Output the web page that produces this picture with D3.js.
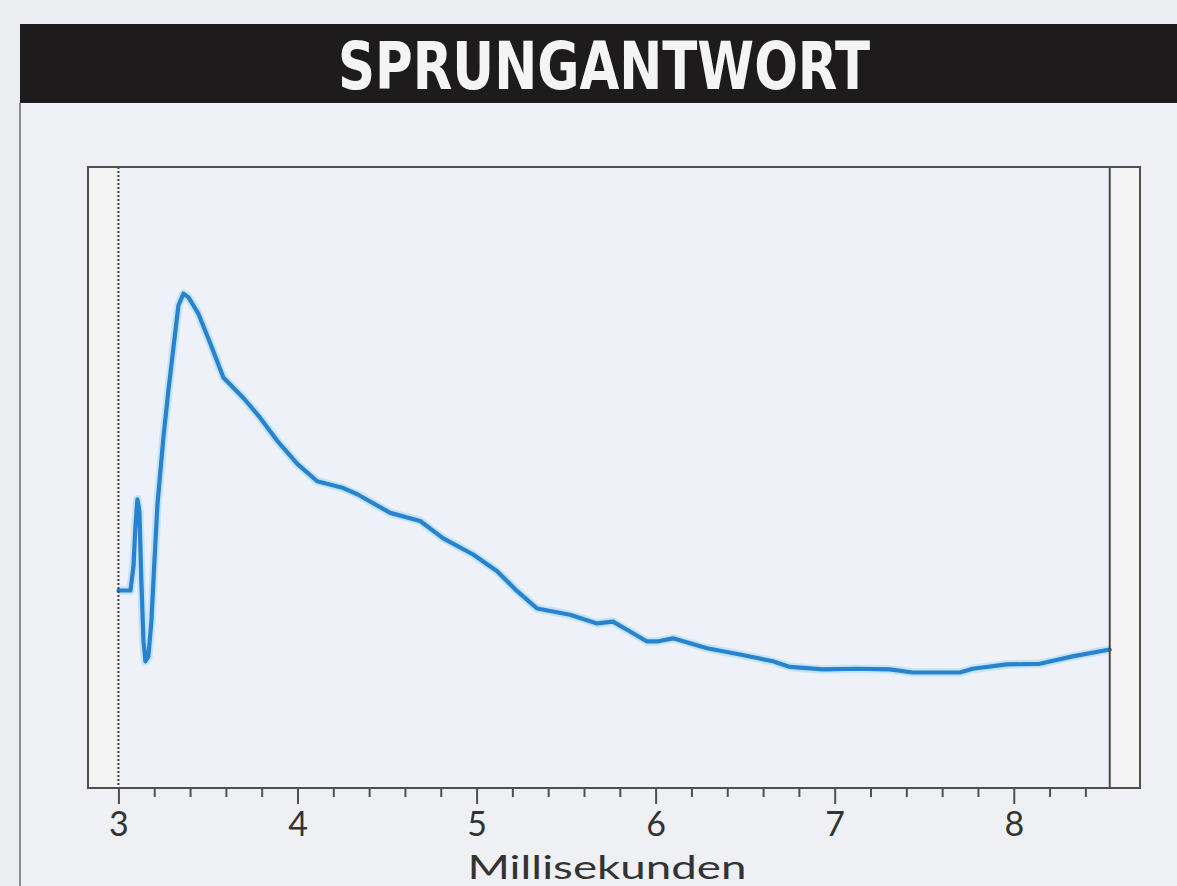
<!DOCTYPE html>
<html>
<head>
<meta charset="utf-8">
<script src="https://cdn.jsdelivr.net/npm/d3@7"></script>
<style>
  body { margin: 0; background: #eceef1; }
  svg { display: block; }
</style>
</head>
<body>
<svg id="chart" width="1177" height="886"></svg>
<script>
// Sprungantwort - Daten
const timeMs = [3.000, 3.067, 3.084, 3.095, 3.106, 3.117, 3.128, 3.140, 3.151, 3.167,
  3.184, 3.201, 3.218, 3.251, 3.279, 3.307, 3.335, 3.363, 3.391, 3.419,
  3.446, 3.513, 3.586, 3.698, 3.792, 3.887, 3.999, 4.110, 4.256, 4.334,
  4.518, 4.685, 4.814, 4.981, 5.115, 5.227, 5.338, 5.522, 5.673, 5.762,
  5.857, 5.952, 6.008, 6.097, 6.287, 6.471, 6.655, 6.750, 6.934, 7.124,
  7.308, 7.436, 7.699, 7.771, 7.961, 8.145, 8.329, 8.536];
const response = [31.8, 31.8, 35.7, 42.2, 46.5, 44.6, 33.3, 23.6, 20.4, 21.2,
  26.8, 36.5, 45.7, 56.4, 64.0, 70.9, 77.7, 79.6, 79.0, 77.7,
  76.4, 71.6, 66.1, 62.8, 59.6, 55.9, 52.2, 49.4, 48.3, 47.3,
  44.3, 43.0, 40.2, 37.6, 34.9, 31.7, 28.9, 27.9, 26.5, 26.8,
  25.2, 23.6, 23.6, 24.1, 22.5, 21.5, 20.4, 19.5, 19.1, 19.2,
  19.1, 18.6, 18.6, 19.2, 19.9, 20.0, 21.2, 22.3];

const majorTicks = [3, 4, 5, 6, 7, 8];
const minorTicks = [3.2, 3.4, 3.6, 3.8, 4.2, 4.4, 4.6, 4.8, 5.2, 5.4, 5.6, 5.8,
  6.2, 6.4, 6.6, 6.8, 7.2, 7.4, 7.6, 7.8, 8.2, 8.4];
const xDomain = [2.83, 8.705];   // Rahmen links/rechts
const dataStart = 3.0;           // gepunktete Linie
const dataEnd = 8.536;           // durchgezogene Linie rechts
const titel = "SPRUNGANTWORT";
const xLabel = "Millisekunden";

const W = 1177, H = 886;
const margin = {top: 167, right: 37, bottom: 98, left: 88};

const svg = d3.select("#chart");

// Titelbalken
svg.append("rect")
  .attr("x", 20).attr("y", 24)
  .attr("width", W - 20).attr("height", 79)
  .attr("fill", "#1d1b1b");

svg.append("text")
  .attr("x", 604).attr("y", 89)
  .attr("text-anchor", "middle")
  .attr("textLength", 532)
  .attr("lengthAdjust", "spacingAndGlyphs")
  .style("font-family", "'Liberation Sans Narrow', 'DejaVu Sans Condensed', 'Roboto', sans-serif")
  .style("font-weight", "bold")
  .style("font-size", "66px")
  .style("fill", "#f4f4f4")
  .text(titel);

// Kasten unter dem Titel
svg.append("rect")
  .attr("x", 20).attr("y", 103)
  .attr("width", W - 20).attr("height", H - 103)
  .attr("fill", "#eff0f3");
svg.append("line")
  .attr("x1", 20).attr("x2", 20)
  .attr("y1", 103).attr("y2", H)
  .attr("stroke", "#6a6a6a").attr("stroke-width", 1.5);

const x = d3.scaleLinear()
  .domain(xDomain)
  .range([margin.left, W - margin.right]);

const y = d3.scaleLinear()
  .domain([0, 100])
  .range([H - margin.bottom, margin.top]);

const plotBottom = H - margin.bottom;

// Plotfläche
svg.append("rect")
  .attr("x", margin.left).attr("y", margin.top)
  .attr("width", x(xDomain[1]) - margin.left)
  .attr("height", plotBottom - margin.top)
  .attr("fill", "#eef1f7");

// Randstreifen links und rechts
svg.append("rect")
  .attr("x", margin.left).attr("y", margin.top)
  .attr("width", x(dataStart) - margin.left)
  .attr("height", plotBottom - margin.top)
  .attr("fill", "#f3f3f4");
svg.append("rect")
  .attr("x", x(dataEnd)).attr("y", margin.top)
  .attr("width", x(xDomain[1]) - x(dataEnd))
  .attr("height", plotBottom - margin.top)
  .attr("fill", "#f3f3f4");

// Kurve
const line = d3.line()
  .x((d, i) => x(timeMs[i]))
  .y(d => y(d))
  .curve(d3.curveLinear);

svg.append("path")
  .datum(response)
  .attr("d", line)
  .attr("fill", "none")
  .attr("stroke", "#a9dcf6")
  .attr("stroke-width", 8.5)
  .attr("stroke-linejoin", "round")
  .attr("opacity", 0.6);

svg.append("path")
  .datum(response)
  .attr("d", line)
  .attr("fill", "none")
  .attr("stroke", "#2882cd")
  .attr("stroke-width", 4.2)
  .attr("stroke-linejoin", "round")
  .attr("stroke-linecap", "round");

// gepunktete Linie bei 3 ms, durchgezogene bei Ende
svg.append("line")
  .attr("x1", x(dataStart)).attr("x2", x(dataStart))
  .attr("y1", margin.top).attr("y2", plotBottom)
  .attr("stroke", "#3e3e3e").attr("stroke-width", 2)
  .attr("stroke-dasharray", "2,2");
svg.append("line")
  .attr("x1", x(dataEnd)).attr("x2", x(dataEnd))
  .attr("y1", margin.top).attr("y2", plotBottom)
  .attr("stroke", "#4a4a4a").attr("stroke-width", 2);

// Rahmen
svg.append("rect")
  .attr("x", margin.left).attr("y", margin.top)
  .attr("width", x(xDomain[1]) - margin.left)
  .attr("height", plotBottom - margin.top)
  .attr("fill", "none")
  .attr("stroke", "#4f4f4f").attr("stroke-width", 2);

// Achse: kleine Striche
svg.append("g")
  .attr("transform", `translate(0, ${plotBottom})`)
  .call(d3.axisBottom(x).tickValues(minorTicks).tickSize(9).tickFormat(""))
  .call(g => g.select(".domain").remove())
  .selectAll("line").attr("stroke", "#4f4f4f").attr("stroke-width", 2);

// große Striche mit Beschriftung
const xAxis = svg.append("g")
  .attr("transform", `translate(0, ${plotBottom})`)
  .call(d3.axisBottom(x).tickValues(majorTicks).tickSize(16).tickPadding(8).tickFormat(d3.format("d")))
  .call(g => g.select(".domain").remove());

xAxis.selectAll("line").attr("stroke", "#4f4f4f").attr("stroke-width", 2);
xAxis.selectAll("text")
  .style("font-family", "Lato, 'DejaVu Sans', sans-serif")
  .style("font-size", "34px")
  .style("fill", "#333");

svg.append("text")
  .attr("x", 607).attr("y", 879)
  .attr("text-anchor", "middle")
  .attr("textLength", 279)
  .attr("lengthAdjust", "spacingAndGlyphs")
  .style("font-family", "Lato, 'DejaVu Sans', sans-serif")
  .style("font-size", "33px")
  .style("fill", "#333")
  .text(xLabel);
</script>
</body>
</html>
